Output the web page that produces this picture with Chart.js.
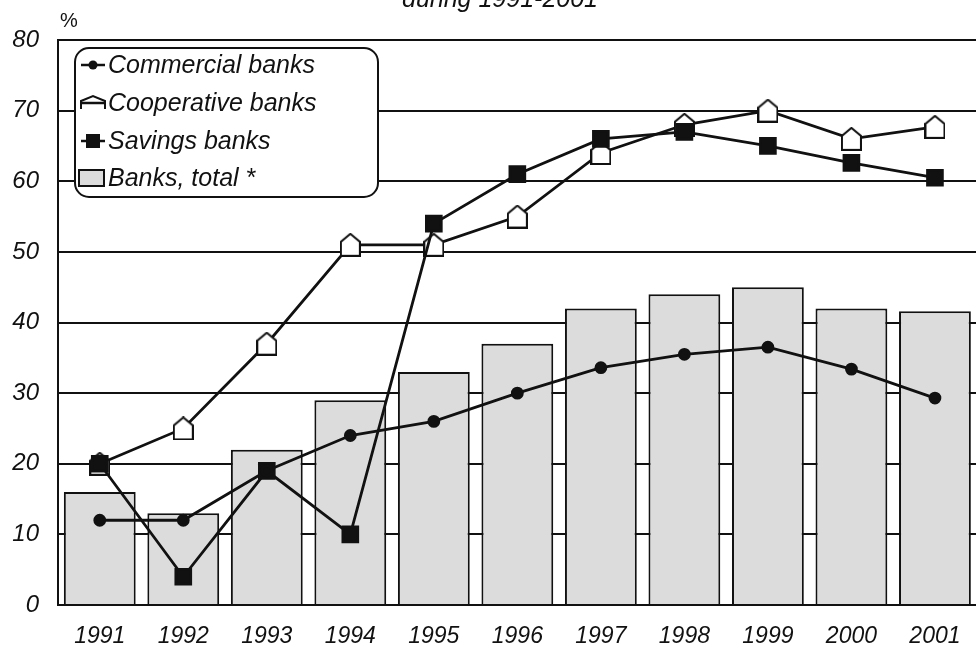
<!DOCTYPE html>
<html>
<head>
<meta charset="utf-8">
<script src="https://cdn.jsdelivr.net/npm/chart.js@4.4.0/dist/chart.umd.min.js"></script>
<style>
  html, body { margin: 0; padding: 0; background: #fff; overflow: hidden; }
  canvas { display: block; }
</style>
</head>
<body>
<canvas id="chart" width="990" height="647"></canvas>
<script>
// Jaren en reeksen (procenten)
const years = ["1991", "1992", "1993", "1994", "1995", "1996", "1997", "1998", "1999", "2000", "2001"];
const commercialBanks = [12, 12, 19, 24, 26, 30, 33.6, 35.5, 36.5, 33.4, 29.3];
const cooperativeBanks = [20, 25, 37, 51, 51, 55, 64, 68, 70, 66, 67.7];
const savingsBanks = [20, 4, 19, 10, 54, 61, 66, 67, 65, 62.6, 60.5];
const banksTotal = [16, 13, 22, 29, 33, 37, 42, 44, 45, 42, 41.6];
const yTicks = [0, 10, 20, 30, 40, 50, 60, 70, 80];

const FONT = "'Liberation Sans', Arial, sans-serif";

// Huisvormige marker voor coöperatieve banken
function makeHouse(w, h) {
  const c = document.createElement("canvas");
  c.width = w; c.height = h;
  const g = c.getContext("2d");
  const roof = Math.round(h * 0.38);
  g.beginPath();
  g.moveTo(w / 2, 1);
  g.lineTo(w - 1, roof);
  g.lineTo(w - 1, h - 1);
  g.lineTo(1, h - 1);
  g.lineTo(1, roof);
  g.closePath();
  g.fillStyle = "#fff";
  g.fill();
  g.lineWidth = 2;
  g.strokeStyle = "#111";
  g.stroke();
  return c;
}
const houseMarker = makeHouse(21, 24);

// Legenda in een afgeronde box binnen het grafiekvlak
const boxLegend = {
  id: "boxLegend",
  afterDraw(chart) {
    const ctx = chart.ctx;
    const x = 75, y = 48, w = 303, h = 149, r = 14;
    ctx.save();
    ctx.beginPath();
    ctx.roundRect(x, y, w, h, r);
    ctx.fillStyle = "#fff";
    ctx.fill();
    ctx.lineWidth = 2;
    ctx.strokeStyle = "#111";
    ctx.stroke();

    const rows = [65, 103, 141, 178];
    const names = ["Commercial banks", "Cooperative banks", "Savings banks", "Banks, total *"];
    ctx.font = "italic 25px " + FONT;
    ctx.fillStyle = "#111";
    ctx.textBaseline = "middle";
    names.forEach((n, i) => ctx.fillText(n, 108, rows[i] + 1));

    ctx.strokeStyle = "#111";
    ctx.lineWidth = 2.5;
    for (let i = 0; i < 3; i++) {
      ctx.beginPath();
      ctx.moveTo(81, rows[i]);
      ctx.lineTo(105, rows[i]);
      ctx.stroke();
    }
    ctx.lineWidth = 2;
    // cirkel
    ctx.beginPath();
    ctx.arc(93, rows[0], 4.5, 0, Math.PI * 2);
    ctx.fillStyle = "#111";
    ctx.fill();
    // huisje (open)
    ctx.beginPath();
    ctx.moveTo(81, rows[1] + 6);
    ctx.lineTo(81, rows[1] - 2);
    ctx.lineTo(93, rows[1] - 7);
    ctx.lineTo(105, rows[1] - 2);
    ctx.lineTo(105, rows[1] + 6);
    ctx.stroke();
    // vierkant
    ctx.fillRect(86, rows[2] - 7, 14, 14);
    // balk
    ctx.fillStyle = "#dcdcdc";
    ctx.fillRect(79, rows[3] - 8, 25, 16);
    ctx.strokeRect(79, rows[3] - 8, 25, 16);

    // titel (afgesneden) en eenheid
    ctx.fillStyle = "#111";
    ctx.textBaseline = "alphabetic";
    ctx.textAlign = "center";
    ctx.font = "italic 25px " + FONT;
    ctx.fillText("during 1991-2001", 500, 7);
    ctx.font = "20px " + FONT;
    ctx.fillText("%", 69, 27);
    ctx.restore();
  }
};

const ctx = document.getElementById("chart").getContext("2d");

new Chart(ctx, {
  data: {
    labels: years,
    datasets: [
      {
        type: "line",
        label: "Commercial banks",
        data: commercialBanks,
        borderColor: "#111",
        borderWidth: 2.8,
        pointStyle: "circle",
        pointRadius: 5,
        pointBackgroundColor: "#111",
        pointBorderColor: "#111",
        tension: 0,
        order: 1
      },
      {
        type: "line",
        label: "Cooperative banks",
        data: cooperativeBanks,
        borderColor: "#111",
        borderWidth: 2.8,
        pointStyle: houseMarker,
        tension: 0,
        order: 2
      },
      {
        type: "line",
        label: "Savings banks",
        data: savingsBanks,
        borderColor: "#111",
        borderWidth: 2.8,
        pointStyle: "rect",
        pointRadius: 10.5,
        pointBackgroundColor: "#111",
        pointBorderColor: "#111",
        tension: 0,
        order: 1
      },
      {
        type: "bar",
        label: "Banks, total *",
        data: banksTotal,
        backgroundColor: "#dcdcdc",
        borderColor: "#111",
        borderWidth: 2,
        barPercentage: 0.86,
        categoryPercentage: 1,
        order: 4
      }
    ]
  },
  options: {
    responsive: false,
    animation: false,
    devicePixelRatio: 1,
    layout: { padding: { top: 40, right: 5, left: 0, bottom: 0 } },
    plugins: {
      legend: { display: false },
      tooltip: { enabled: false }
    },
    scales: {
      x: {
        grid: { display: false },
        border: { display: true, color: "#111", width: 2 },
        ticks: {
          color: "#111",
          padding: 10,
          font: { family: FONT, size: 23, style: "italic" }
        },
        afterFit(scale) { scale.height = 42; }
      },
      y: {
        min: 0,
        max: 80,
        afterBuildTicks(scale) { scale.ticks = yTicks.map(v => ({ value: v })); },
        grid: { color: "#111", lineWidth: 2, drawTicks: false },
        border: { display: true, color: "#111", width: 2 },
        ticks: {
          color: "#111",
          padding: 19,
          font: { family: FONT, size: 24, style: "italic" }
        },
        afterFit(scale) { scale.width = 58; }
      }
    }
  },
  plugins: [boxLegend]
});
</script>
</body>
</html>
